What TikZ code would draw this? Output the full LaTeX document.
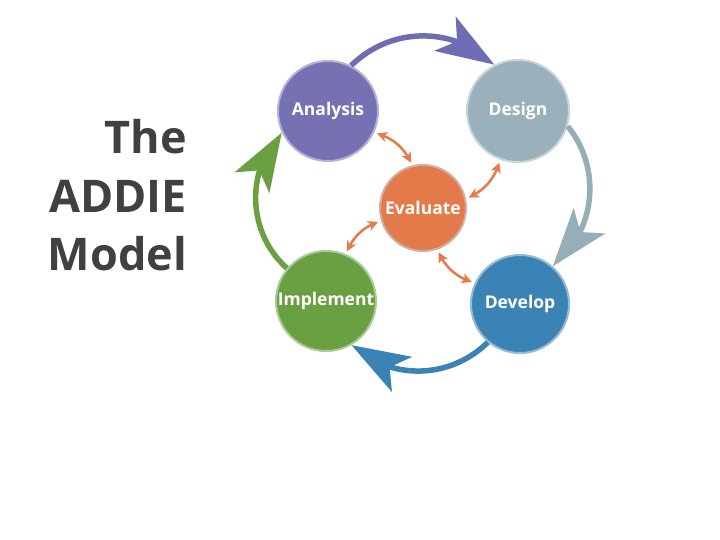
\documentclass[tikz,border=0pt]{standalone}
\usepackage{fontspec}
\setmainfont{Open Sans}
\usetikzlibrary{arrows.meta,bending}
\definecolor{cAna}{RGB}{117,113,179}
\definecolor{cDes}{RGB}{154,176,186}
\definecolor{cEva}{RGB}{228,122,74}
\definecolor{cImp}{RGB}{106,160,66}
\definecolor{cDev}{RGB}{58,131,180}
\definecolor{cPur}{RGB}{110,108,180}
\definecolor{cGry}{RGB}{150,174,184}
\definecolor{cOra}{RGB}{230,122,72}
\definecolor{cTxt}{RGB}{64,64,64}
\tikzset{
  phase/.style={circle, inner sep=0pt, line width=2pt, text=white,
    font=\fontsize{17.5}{20}\selectfont\bfseries},
  cyclearrow/.style={line width=5.5pt, -{Stealth[length=58pt,width=40pt,inset=14pt]}},
  evalarrow/.style={line width=2.5pt, draw=cOra,
    {Stealth[length=10pt,width=10pt,inset=2.5pt]}-{Stealth[length=10pt,width=10pt,inset=2.5pt]},
    shorten <=3pt, shorten >=3pt},
  title/.style={anchor=base east, inner sep=0pt, text=cTxt, font=\fontsize{45}{50}\selectfont\bfseries}
}
\begin{document}
\begin{tikzpicture}[x=1pt,y=1pt]
\useasboundingbox (0,0) rectangle (720,-539);
\fill[white] (0,0) rectangle (720,-539);

\node[title] (t1) at (187,-153) {The};
\node[title] (t2) at (187,-212) {ADDIE};
\node[title] (t3) at (187,-270) {Model};

\node[phase, fill=cAna, draw=cAna!55!white, minimum size=100pt] (ana) at (328,-111) {Analysis};
\node[phase, fill=cDes, draw=cDes!55!white, minimum size=102pt] (des) at (518,-111) {Design};
\node[phase, fill=cEva, draw=cEva!45!gray!60!white, minimum size=86pt] (eva) at (423,-208) {Evaluate};
\node[phase, fill=cImp, draw=cImp!55!white, minimum size=100pt] (imp) at (326,-301) {Implement};
\node[phase, fill=cDev, draw=cDev!55!white, minimum size=98pt] (dev) at (520,-304) {Develop};

\draw[cyclearrow, cPur] (ana.63) to[bend left=44] (des.117);
\draw[cyclearrow, cGry] (des.-17) to[bend left=45] (dev.49);
\draw[cyclearrow, cDev] (dev.230) to[bend left=43] (imp.300);
\draw[cyclearrow, cImp] (imp.140) to[bend left=46] (ana.205);

\draw[evalarrow] (ana.-25) to[bend left=25] (eva.104);
\draw[evalarrow] (des.250) to[bend left=25] (eva.12);
\draw[evalarrow] (eva.197) to[bend right=25] (imp.67);
\draw[evalarrow] (eva.-71) to[bend right=25] (dev.155);
\end{tikzpicture}
\end{document}
